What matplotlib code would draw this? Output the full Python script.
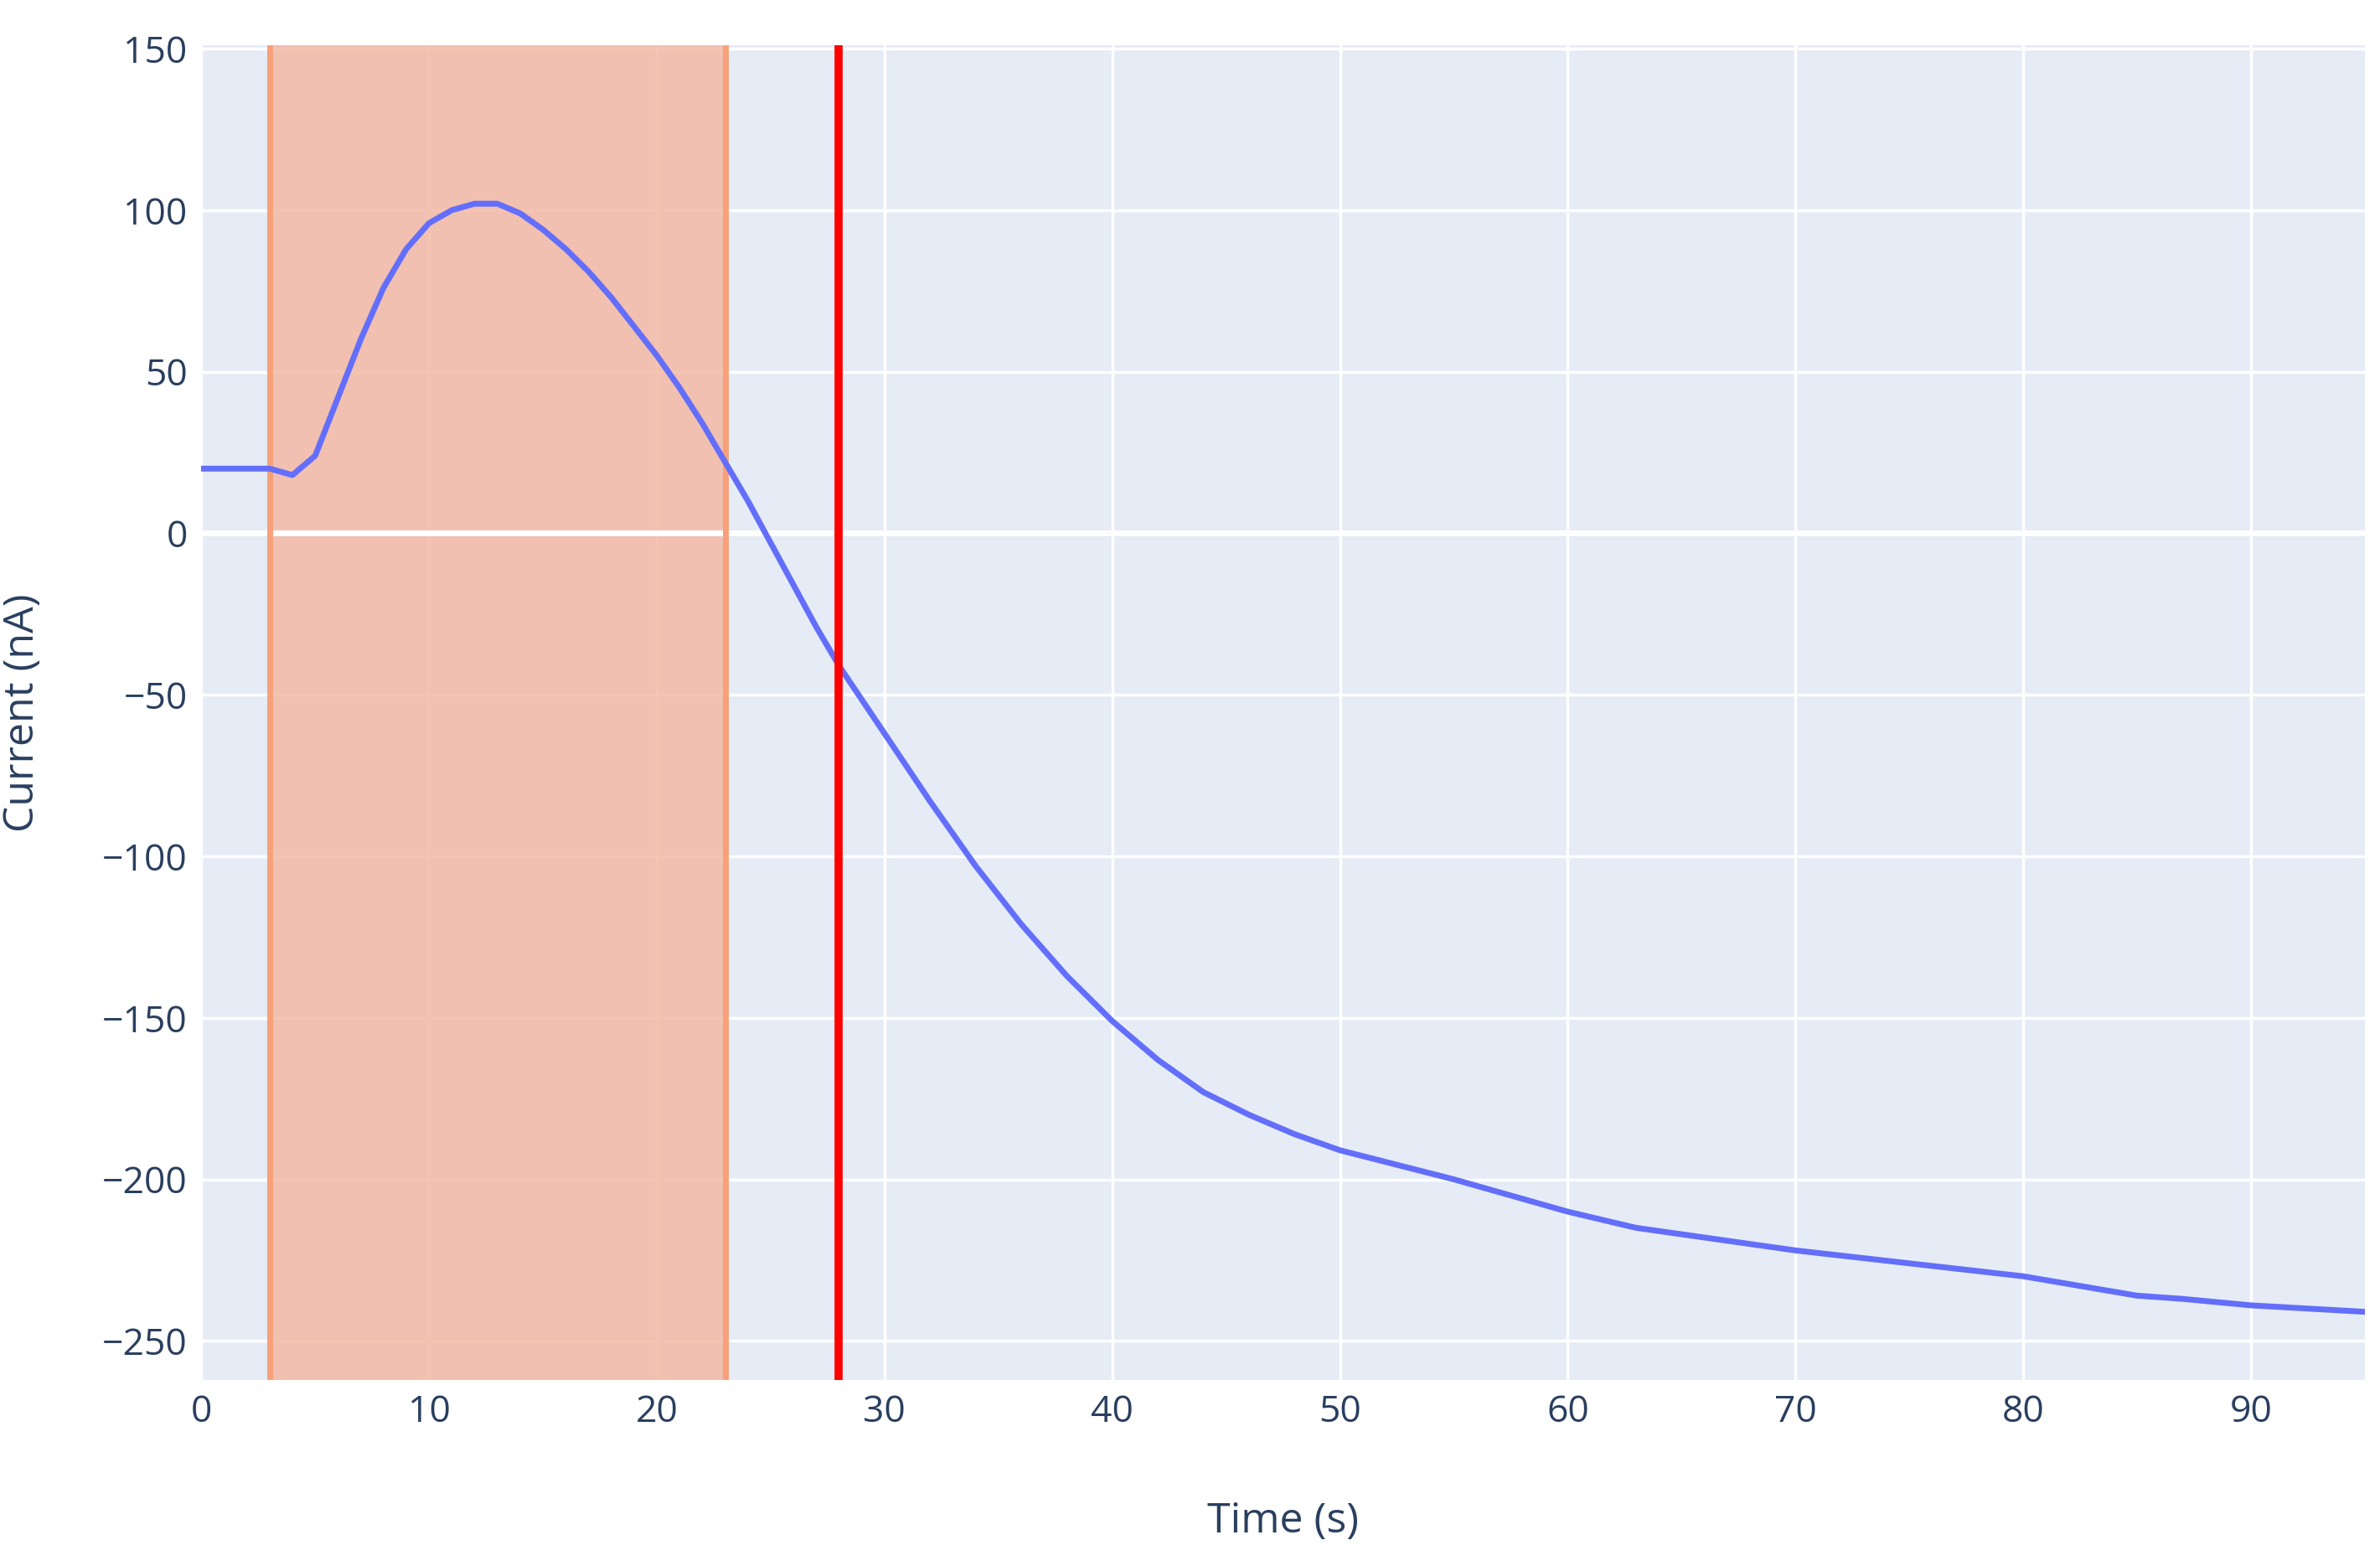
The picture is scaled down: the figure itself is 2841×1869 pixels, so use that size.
import matplotlib.pyplot as plt

time_s = [0, 1, 2, 3, 4, 5, 6, 7, 8, 9, 10, 11, 12, 13, 14, 15, 16, 17, 18, 19, 20,
          21, 22, 23, 24, 25, 26, 27, 28, 30, 32, 34, 36, 38, 40, 42, 44, 46, 48, 50,
          55, 60, 63, 66, 70, 75, 80, 85, 87, 90, 95]
current_na = [20, 20, 20, 20, 18, 24, 42, 60, 76, 88, 96, 100, 102, 102, 99, 94, 88, 81, 73, 64, 55,
              45, 34, 22, 10, -3, -16, -29, -41, -62, -83, -103, -121, -137, -151, -163, -173, -180, -186, -191,
              -200, -210, -215, -218, -222, -226, -230, -236, -237, -239, -241]
band = (3, 23)
marker_t = 28

plt.rcParams['font.family'] = ['Open Sans', 'DejaVu Sans']
f = plt.figure(figsize=(28.41, 18.69), dpi=100)
ax = f.add_axes([0.0846, 0.119, 0.909, 0.852])
ax.set_facecolor('#e5ecf6')
ax.axvspan(band[0], band[1], color='#f4b9a5', alpha=0.85, lw=0, zorder=1)
for b in band:
    ax.axvline(b, color='#f8a07a', lw=5, zorder=2)
ax.grid(True, color='white', lw=2.5, zorder=1.5)
ax.set_axisbelow(True)
ax.axhline(0, color='white', lw=5, zorder=1.6)
ax.plot(time_s, current_na, color='#636efa', lw=5, zorder=3)
ax.axvline(marker_t, color='#ff0000', lw=7, zorder=4)
ax.set_xlim(0, 95)
ax.set_ylim(-262, 151)
ax.set_xticks(range(0, 91, 10))
ax.set_yticks(range(-250, 151, 50))
ax.set_yticklabels(['\u2212%d' % -v if v < 0 else str(v) for v in range(-250, 151, 50)])
for s in ax.spines.values():
    s.set_visible(False)
ax.tick_params(length=0, labelsize=32, labelcolor='#2a3f5f', pad=12)
ax.set_xlabel('Time (s)', fontsize=36, color='#2a3f5f', labelpad=60)
ax.set_ylabel('Current (nA)', fontsize=36, color='#2a3f5f', labelpad=50)
f.savefig('out.png')
